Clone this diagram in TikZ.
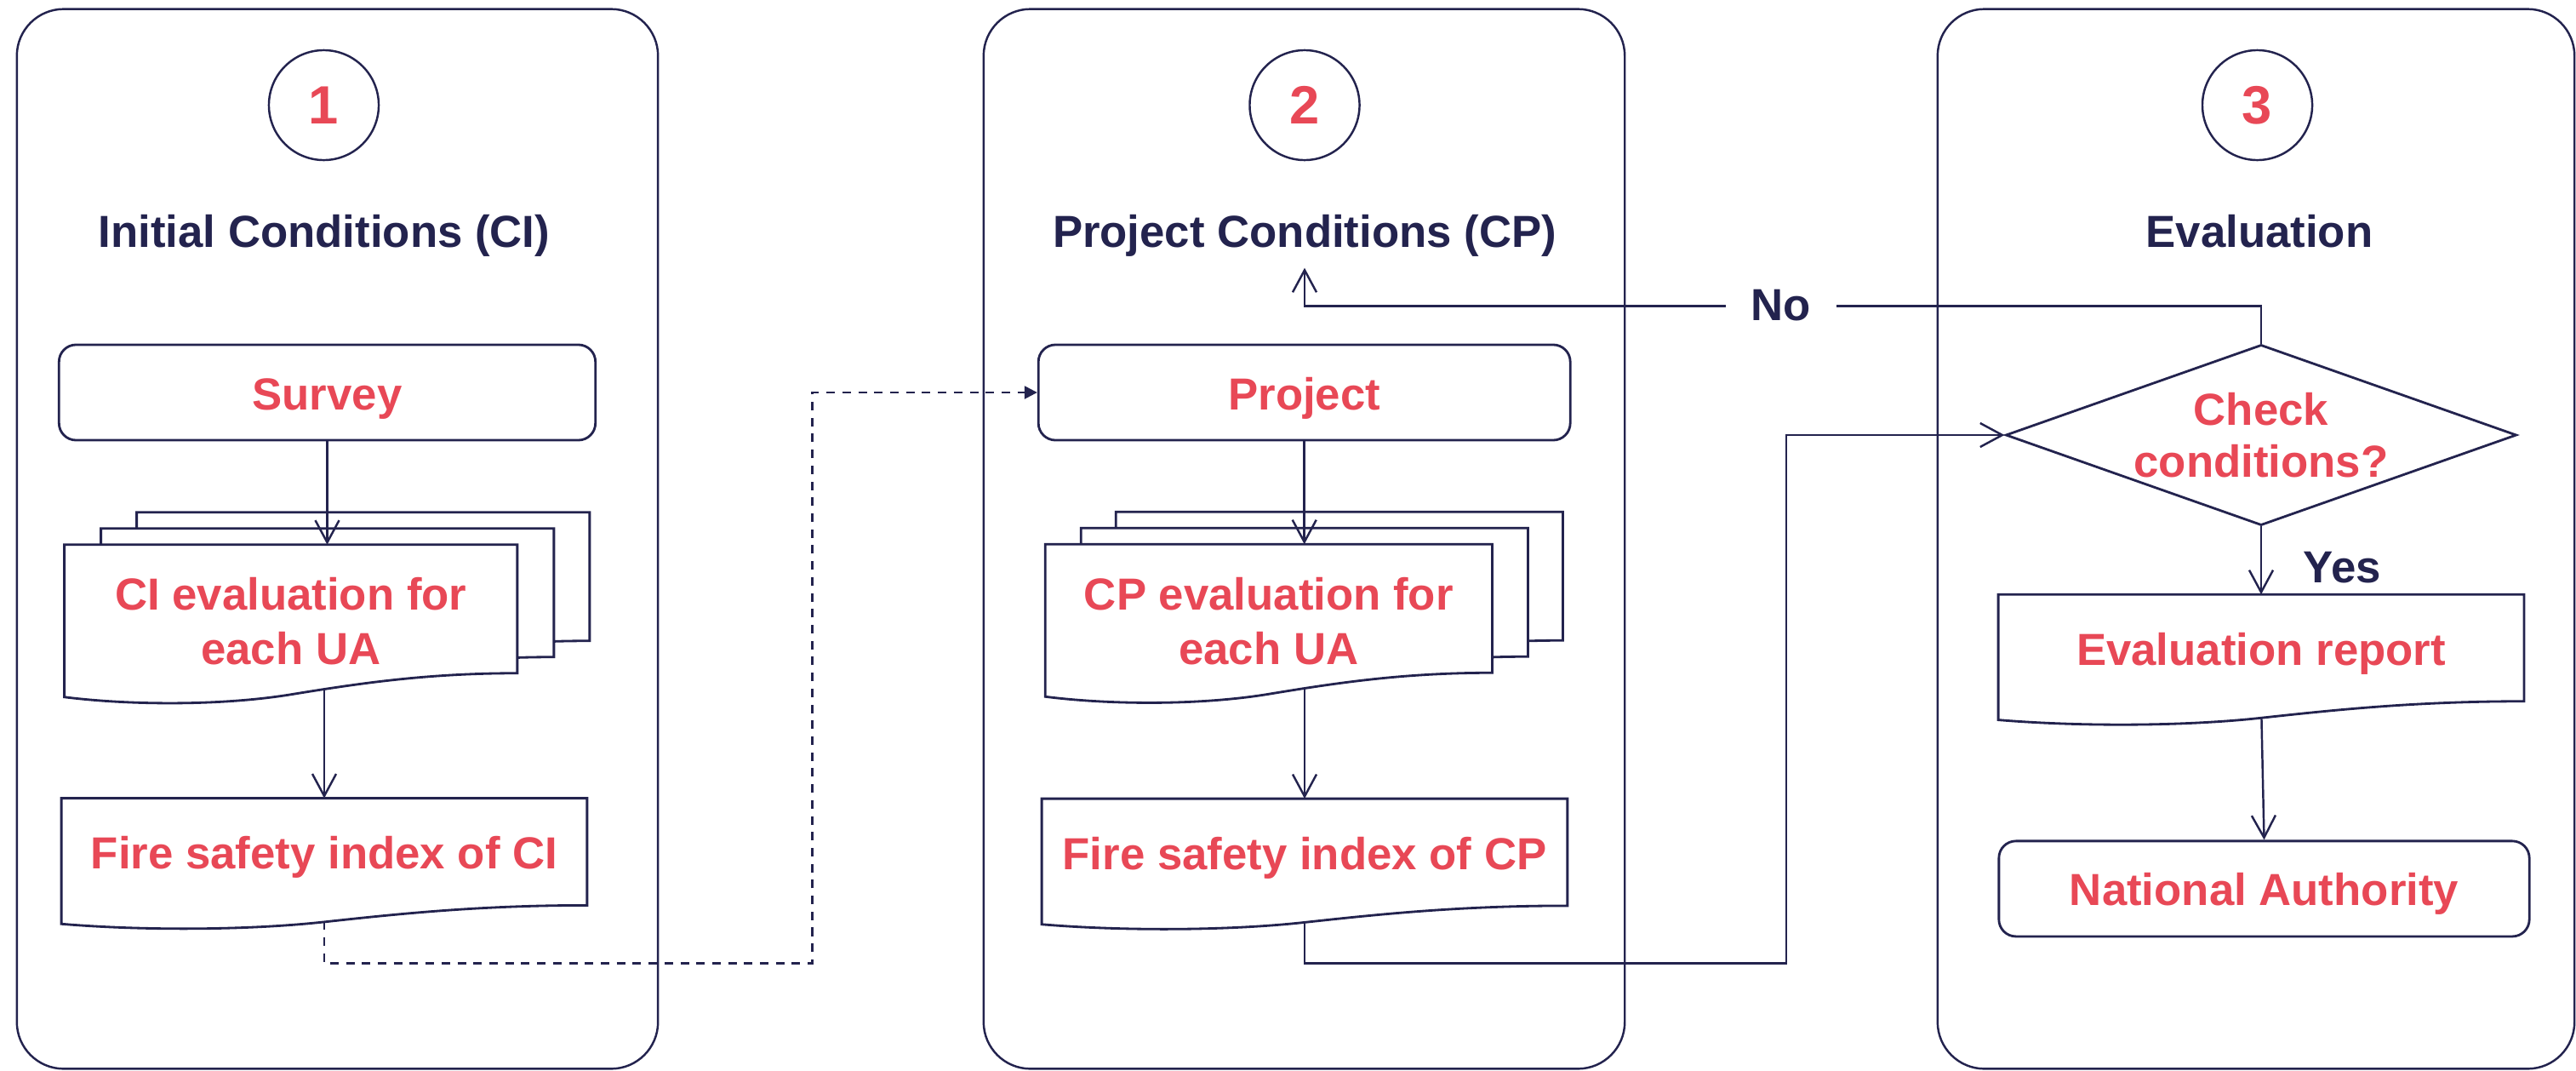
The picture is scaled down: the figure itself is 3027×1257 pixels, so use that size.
\documentclass[tikz,border=0pt]{standalone}
\usepackage{fontspec}
\setmainfont{Liberation Sans}
\usetikzlibrary{arrows.meta,shapes.geometric,calc}
\definecolor{navy}{RGB}{35,35,78}
\definecolor{accent}{RGB}{232,72,86}
\pgfdeclarelayer{back}
\pgfdeclarelayer{shapes}
\pgfsetlayers{back,shapes,main}
\newcommand\boxfont{\fontsize{15pt}{18.2pt}\selectfont\bfseries}
\newcommand\numfont{\fontsize{18pt}{20pt}\selectfont\bfseries}

% Document outline with a wavy bottom edge, built on a node's rectangle.
% [#1] optional shift (for stacked copies), #2 node name, #3 wave depth factor
\newcommand\docoutline[3][0,0]{%
  \path[docline] let \p1=($(#2.north west)+(#1)$), \p2=($(#2.south east)+(#1)$), \n1={\x2-\x1} in
    (\x2,\y2) -- (\x2,\y1) -- (\x1,\y1) -- (\x1,{\y2-#3*0.28cm})
    .. controls ({\x1+0.15*\n1},{\y2-#3*0.38cm}) and ({\x1+0.35*\n1},{\y2-#3*0.38cm})
    .. ({\x1+0.5*\n1},{\y2-#3*0.25cm})
    .. controls ({\x1+0.65*\n1},{\y2-#3*0.12cm}) and ({\x1+0.8*\n1},\y2)
    .. (\x2,\y2) -- cycle;}

\begin{document}
\begin{tikzpicture}[x=0.01cm, y=-0.01cm,
  lane/.style={draw=navy, line width=0.7pt, rounded corners=0.55cm,
    minimum width=#1, minimum height=12.44cm, inner sep=0},
  numcirc/.style={circle, draw=navy, line width=0.7pt, minimum size=1.29cm,
    inner sep=0, text=accent, font=\numfont},
  lanetitle/.style={anchor=base, text=navy, font=\boxfont, inner sep=0.13cm},
  stepbox/.style={draw=navy, line width=0.8pt, rounded corners=0.2cm,
    minimum height=1.12cm, inner sep=0, text=accent, font=\boxfont,
    text height=11.4pt, text depth=0pt},
  docnode/.style={inner sep=0, text=accent, font=\boxfont},
  doctext/.style={inner sep=0, align=center, text=accent, font=\boxfont},
  docline/.style={draw=navy, fill=white, line width=0.8pt},
  decision/.style={diamond, draw=navy, line width=0.8pt, aspect=2.83,
    minimum width=6cm, minimum height=2.12cm, inner sep=0, align=center,
    text=accent, font=\fontsize{15pt}{17.4pt}\selectfont\bfseries},
  flowlabel/.style={text=navy, font=\boxfont},
  arr/.style={draw=navy, line width=0.7pt,
    -{Straight Barb[length=0.26cm, width=0.28cm]}},
  dashlink/.style={draw=navy, line width=0.7pt, dash pattern=on 0.1cm off 0.087cm,
    -{Triangle[length=0.15cm, width=0.15cm]}}]

\useasboundingbox (0,0) rectangle (3027,1257);

% swim lanes
\begin{pgfonlayer}{back}
  \node[lane=7.53cm] (lane1) at (396.5,633) {};
  \node[lane=7.53cm] (lane2) at (1532.5,633) {};
  \node[lane=7.48cm] (lane3) at (2651,633) {};
\end{pgfonlayer}

% lane headers
\node[numcirc] (n1) at (380.5,123.5) {1};
\node[numcirc] (n2) at (1533,123.5) {2};
\node[numcirc] (n3) at (2652.5,123.5) {3};
\node[lanetitle] (t1) at (381,290) {Initial Conditions (CI)};
\node[lanetitle] (t2) at (1533,290) {Project Conditions (CP)};
\node[lanetitle] (t3) at (2655,290) {Evaluation};

% lane 1
\node[stepbox, minimum width=6.3cm] (survey) at (384.5,461) {Survey};
\node[docnode, minimum width=5.305cm, minimum height=1.495cm,
  label={[doctext, yshift=-0.145cm]center:CI evaluation for\\each UA}] (cidoc) at (341.75,715.25) {};
\node[docnode, minimum width=6.16cm, minimum height=1.243cm,
  text height=11.4pt, text depth=0pt] (fsci) at (381,1000.5) {Fire safety index of CI};

% lane 2
\node[stepbox, minimum width=6.246cm] (project) at (1532.7,461) {Project};
\node[docnode, minimum width=5.236cm, minimum height=1.495cm,
  label={[doctext, yshift=-0.145cm]center:CP evaluation for\\each UA}] (cpdoc) at (1490.8,714.75) {};
\node[docnode, minimum width=6.16cm, minimum height=1.243cm,
  text height=11.4pt, text depth=0pt] (fscp) at (1533,1001) {Fire safety index of CP};

% lane 3
\node[decision] (check) at (2657,511) {Check\\conditions?};
\node[docnode, minimum width=6.16cm, minimum height=1.24cm,
  text height=11.4pt, text depth=0pt] (evalrep) at (2657,761) {Evaluation report};
\node[stepbox, minimum width=6.23cm] (natauth) at (2660.5,1043.9) {National Authority};

% branch labels
\node[flowlabel, fill=white, inner xsep=0.3cm, inner ysep=0.05cm] (no) at (2093,359) {No};
\node[flowlabel, anchor=base west, inner sep=0] (yes) at (2706,684) {Yes};

% connectors that leave from document shapes (their start is covered by the shapes)
\begin{pgfonlayer}{back}
  \draw[arr] (cidoc.south -| fsci.north) -- (fsci.north);
  \draw[arr] (cpdoc.south -| fscp.north) -- (fscp.north);
  \draw[dashlink] (fsci.south) |- (954.7,1131.4) |- (project.west);
  \draw[arr] (fscp.south) |- (2099,1131.4) |- (check.west);
  \draw[arr] (evalrep.south) -- (natauth.north);
  \draw[arr] (check.north) |- ($(t2.south)+(0,45)$) -- (t2.south);
\end{pgfonlayer}

% document shapes
\begin{pgfonlayer}{shapes}
  \docoutline[85,-38]{cidoc}{1}
  \docoutline[43,-19]{cidoc}{1}
  \docoutline{cidoc}{1}
  \docoutline[83,-38]{cpdoc}{1}
  \docoutline[42,-19]{cpdoc}{1}
  \docoutline{cpdoc}{1}
  \docoutline{fsci}{0.78}
  \docoutline{fscp}{0.78}
  \docoutline{evalrep}{0.78}
\end{pgfonlayer}

% connectors entering stacked documents and the decision branch
\draw[arr] (survey.south) -- (survey.south |- cidoc.north);
\draw[arr] (project.south) -- (project.south |- cpdoc.north);
\draw[arr] (check.south) -- (evalrep.north);

\end{tikzpicture}
\end{document}
